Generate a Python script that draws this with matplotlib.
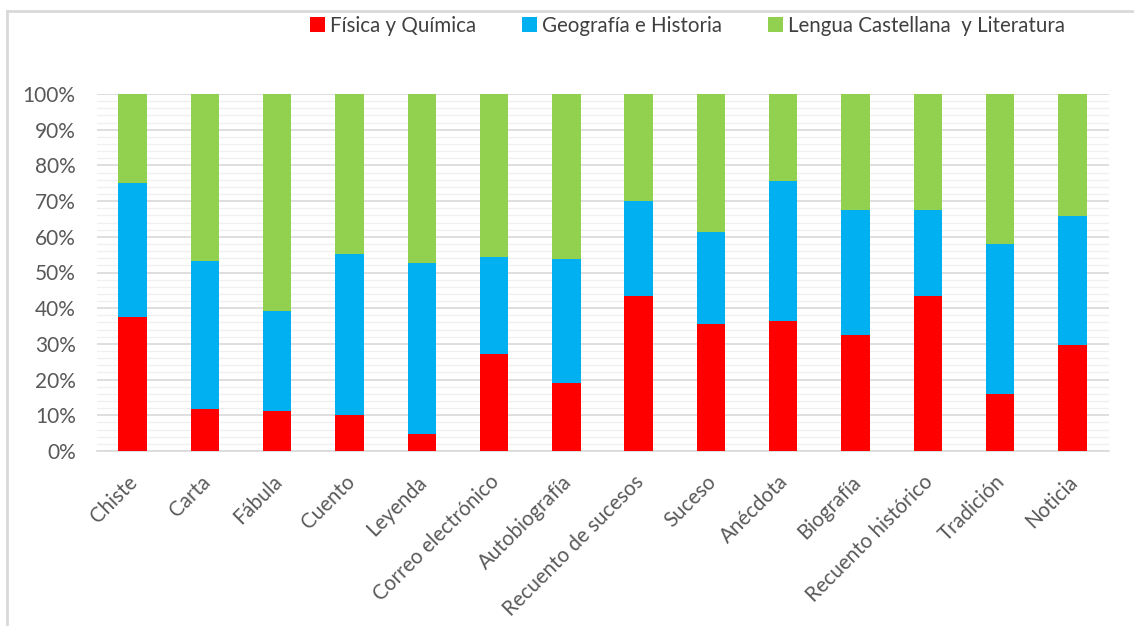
import matplotlib
matplotlib.use("Agg")
import matplotlib.pyplot as plt
from matplotlib.ticker import MultipleLocator, FuncFormatter
from matplotlib.lines import Line2D
from matplotlib.transforms import ScaledTranslation
import numpy as np

categories = ["Chiste", "Carta", "Fábula", "Cuento", "Leyenda", "Correo electrónico",
              "Autobiografía", "Recuento de sucesos", "Suceso", "Anécdota", "Biografía",
              "Recuento histórico", "Tradición", "Noticia"]
fisica = [37.5, 11.9, 11.2, 10.0, 4.8, 27.3, 19.0, 43.3, 35.5, 36.5, 32.5, 43.3, 15.9, 29.6]
geografia_cum = [75.0, 53.2, 39.1, 55.2, 52.6, 54.4, 53.8, 70.1, 61.3, 75.7, 67.6, 67.6, 58.1, 65.9]
geografia = [g - f for g, f in zip(geografia_cum, fisica)]
lengua = [100 - g for g in geografia_cum]
series_names = ["Física y Química", "Geografía e Historia", "Lengua Castellana  y Literatura"]
colors = ["#FF0000", "#00B0F0", "#92D050"]

plt.rcParams['font.family'] = ['Lato', 'DejaVu Sans']

fig = plt.figure(figsize=(11.34, 6.26), dpi=100)
ax = fig.add_axes([96.5/1134, 1-451/626, (1108.5-96.5)/1134, (451-94)/626])

x = np.arange(len(categories))
w = 0.395
b1 = ax.bar(x, fisica, w, color=colors[0], label=series_names[0], zorder=3)
b2 = ax.bar(x, geografia, w, bottom=fisica, color=colors[1], label=series_names[1], zorder=3)
b3 = ax.bar(x, lengua, w, bottom=geografia_cum, color=colors[2], label=series_names[2], zorder=3)

ax.set_xlim(-0.5, len(categories) - 0.5)
ax.set_ylim(0, 100)
ax.yaxis.set_major_locator(MultipleLocator(10))
ax.yaxis.set_minor_locator(MultipleLocator(2))
ax.yaxis.set_major_formatter(FuncFormatter(lambda v, p: f"{int(v)}%"))
ax.grid(axis='y', which='major', color='#d9d9d9', linewidth=1.2, zorder=0)
ax.grid(axis='y', which='minor', color='#f0f0f0', linewidth=1.0, zorder=0)
ax.set_axisbelow(True)
for s in ['left', 'right', 'top']:
    ax.spines[s].set_visible(False)
ax.spines['bottom'].set_color('#d9d9d9')
ax.spines['bottom'].set_linewidth(1.2)
ax.tick_params(axis='both', which='both', length=0, colors='#595959')
ax.tick_params(axis='y', pad=15, labelsize=15)
ax.tick_params(axis='x', pad=15)
ax.set_xticks(x)
ax.set_xticklabels(categories, rotation=45, ha='right', rotation_mode='anchor', fontsize=14.8, color='#595959')
off = ScaledTranslation(-5/100, 0, fig.dpi_scale_trans)
for lab in ax.get_xticklabels():
    lab.set_transform(lab.get_transform() + off)

fig.legend(handles=[b1, b2, b3], labels=series_names, loc='center', bbox_to_anchor=(687.5/1134, 1-25.5/626),
           ncol=3, frameon=False, fontsize=14.8, handlelength=0.75, handleheight=0.75, handletextpad=0.25,
           columnspacing=2.2, labelcolor='#404040')

fig.add_artist(Line2D([7/1134, 7/1134], [0, 1-11/626], transform=fig.transFigure, color='#d9d9d9', linewidth=2))
fig.add_artist(Line2D([7/1134, 1], [1-11/626, 1-11/626], transform=fig.transFigure, color='#d9d9d9', linewidth=2))

fig.savefig("out.png", dpi=100)
